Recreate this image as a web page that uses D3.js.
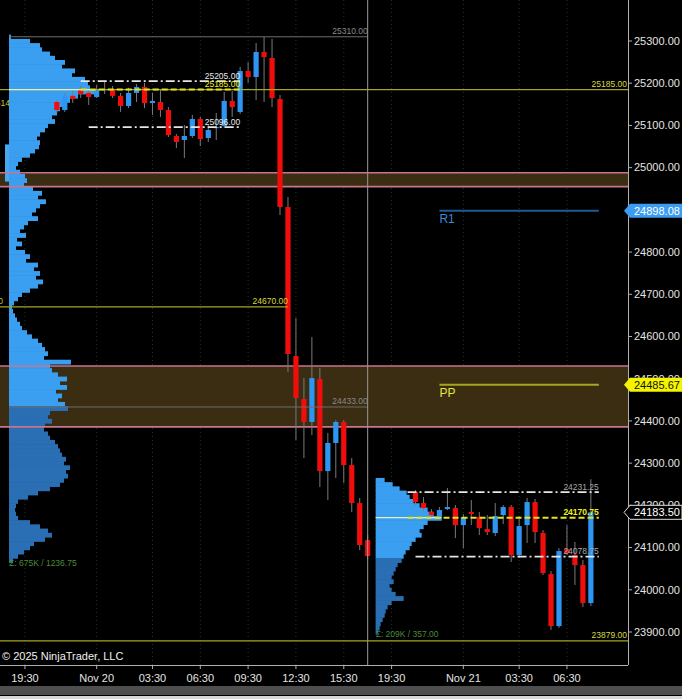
<!DOCTYPE html>
<html><head><meta charset="utf-8">
<script src="https://cdn.jsdelivr.net/npm/d3@7"></script>
<style>html,body{margin:0;padding:0;background:#000;overflow:hidden}svg{display:block}</style>
</head><body><svg id="c" width="682" height="699"></svg>
<script>
// ---------- DATA ----------
const slots = [
"11-19 18:30","11-19 19:00","11-19 19:30","11-19 20:00","11-19 20:30","11-19 21:00","11-19 21:30","11-19 22:00","11-19 22:30","11-19 23:00","11-19 23:30",
"11-20 00:00","11-20 00:30","11-20 01:00","11-20 01:30","11-20 02:00","11-20 02:30","11-20 03:00","11-20 03:30","11-20 04:00","11-20 04:30","11-20 05:00","11-20 05:30","11-20 06:00","11-20 06:30","11-20 07:00","11-20 07:30","11-20 08:00","11-20 08:30","11-20 09:00","11-20 09:30","11-20 10:00","11-20 10:30","11-20 11:00","11-20 11:30","11-20 12:00","11-20 12:30","11-20 13:00","11-20 13:30","11-20 14:00","11-20 14:30","11-20 15:00","11-20 15:30","11-20 16:00","11-20 16:30","11-20 17:00",
"11-20 18:30","11-20 19:00","11-20 19:30","11-20 20:00","11-20 20:30","11-20 21:00","11-20 21:30","11-20 22:00","11-20 22:30","11-20 23:00","11-20 23:30",
"11-21 00:00","11-21 00:30","11-21 01:00","11-21 01:30","11-21 02:00","11-21 02:30","11-21 03:00","11-21 03:30","11-21 04:00","11-21 04:30","11-21 05:00","11-21 05:30","11-21 06:00","11-21 06:30","11-21 07:00","11-21 07:30","11-21 08:00","11-21 08:30","11-21 09:00","11-21 09:30","11-21 10:00"];

const xTickSlots = ["11-19 19:30","11-20 00:00","11-20 03:30","11-20 06:30","11-20 09:30","11-20 12:30","11-20 15:30","11-20 19:30","11-21 00:00","11-21 03:30","11-21 06:30"];
const xTickLabels = ["19:30","Nov 20","03:30","06:30","09:30","12:30","15:30","19:30","Nov 21","03:30","06:30"];
const yTicks = [25300,25200,25100,25000,24900,24800,24700,24600,24500,24400,24300,24200,24100,24000,23900];

const candleTime = ["11-19 21:30","11-19 22:00","11-19 22:30","11-19 23:00","11-19 23:30","11-20 00:00","11-20 00:30","11-20 01:00","11-20 01:30","11-20 02:00","11-20 02:30","11-20 03:00","11-20 03:30","11-20 04:00","11-20 04:30","11-20 05:00","11-20 05:30","11-20 06:00","11-20 06:30","11-20 07:00","11-20 07:30","11-20 08:00","11-20 08:30","11-20 09:00","11-20 09:30","11-20 10:00","11-20 10:30","11-20 11:00","11-20 11:30","11-20 12:00","11-20 12:30","11-20 13:00","11-20 13:30","11-20 14:00","11-20 14:30","11-20 15:00","11-20 15:30","11-20 16:00","11-20 16:30","11-20 17:00",
"11-20 21:00","11-20 21:30","11-20 22:00","11-20 22:30","11-20 23:00","11-20 23:30","11-21 00:00","11-21 00:30","11-21 01:00","11-21 01:30","11-21 02:00","11-21 02:30","11-21 03:00","11-21 03:30","11-21 04:00","11-21 04:30","11-21 05:00","11-21 05:30","11-21 06:00","11-21 06:30","11-21 07:00","11-21 07:30","11-21 08:00"];
const candleOpen  = [25155.5,25136.5,25170,25186,25177,25167.25,25184,25184,25170,25146,25177,25191,25153,25155.5,25136.5,25075,25065.5,25075,25115.25,25070.25,25094,25098.5,25158,25131.75,25229,25214.75,25274,25259.75,25162.5,24906.75,24553.75,24452,24397.5,24499.25,24281.25,24347.75,24397.5,24295.5,24205.5,24117.75,
24231.25,24205.5,24184.25,24174.75,24191.25,24193.5,24153.25,24184.25,24172.25,24144,24134.5,24177,24196,24082.25,24153.25,24207.75,24134.5,24037.25,23914,24096.5,24082.25,24058.5,23968.5];
const candleHigh  = [25160,25177,25184,25193.5,25181.5,25195.75,25203,25193.5,25177,25189,25198,25200.5,25177,25184,25143.5,25079.75,25101,25124.75,25120,25101,25129.5,25179.25,25181.5,25238.5,25250.25,25295.25,25310,25305,25172,24930.5,24643.75,24501.5,24598.75,24525.25,24371.5,24402,24402,24312,24217.5,24129.75,
24236,24219.75,24191.25,24196,24241,24200.75,24179.5,24212.5,24184.25,24177,24205.5,24200.75,24200.75,24174.75,24217.5,24215,24141.5,24044.5,24098.75,24153.25,24113.25,24070.5,24262];
const candleLow   = [25129,25132,25153,25165,25148.5,25165,25174.5,25165,25132,25141,25155.5,25141,25124.75,25120,25072.5,25046.5,25022.75,25070.25,25051.25,25060.75,25065.5,25094,25120,25127,25200.5,25160,25155.5,25143.5,24887.75,24516,24354.75,24312,24366.5,24243.5,24212.5,24264.75,24253,24184,24094,24073.25,
24200.75,24186.5,24172.25,24167.5,24188.75,24122.5,24098.75,24153.25,24129.75,24129.75,24127.25,24155.75,24065.75,24075.25,24110.75,24110.75,24035,23905,23909.5,24082.25,24011.25,23959,23961.5];
const candleClose = [25136.5,25170,25162.5,25174.5,25167.25,25186.25,25186.25,25170,25146,25177,25191,25153,25158,25136.5,25077.25,25060.75,25075,25115.25,25067.75,25089.25,25096.25,25158,25143.5,25229,25214.75,25274,25262,25165,24906.75,24558.5,24454.25,24397.5,24501.5,24281.25,24347.75,24397.5,24295.5,24205.5,24106,24080,
24207.75,24193.5,24177,24189,24196,24153.25,24172.25,24179.5,24146.25,24136.75,24174.75,24196,24082.25,24151,24207.75,24136.75,24039.75,23914,24091.75,24087,24058.5,23968.5,24183.5];

// Volume profiles (relative volume per 10-point row, listed from the top price down)
const profileStep = 10;
const profile1Top = 25310;
const profile1Vol = [2,21,31,33,41,46,56,53,66,63,76,79,81,86,69,61,57,51,48,43,46,39,36,31,28,31,30,26,21,13,9,7,11,16,18,15,24,33,29,37,31,27,23,29,19,15,11,17,8,13,7,16,21,17,29,25,31,27,34,29,21,13,9,5,3,4,6,8,11,13,18,23,29,33,36,39,35,62,41,43,49,58,51,58,47,53,49,56,59,41,39,43,36,35,39,41,46,49,51,53,57,55,61,57,59,55,51,41,29,19,9,7,6,7,9,21,31,39,43,36,25,21,15,9,4];
const profile2Top = 24260;
const profile2Vol = [9,17,24,31,34,38,44,52,58,66,52,48,44,46,40,36,34,30,28,26,22,20,18,16,18,14,16,20,28,16,12,10,9,7,5,4,2];
const sessionStart = ["11-19 18:30","11-20 18:30"];
const sessionLow = [24073.25, 23905];
const sessionVAL = [24433, 24078.75];
const sessionPOC = [25185, 24170.75];
const sessionSum = ["Σ: 675K / 1236.75","Σ: 209K / 357.00"];
// tail of the prior session's profile peeking at the left edge
const priorTailTop = 25055, priorTailBottom = 24967;

// Zones
const zoneLow  = [24955, 24386];
const zoneHigh = [24988, 24530];

// Levels
const grayLevels = [25310, 24433];
const yellowFull = [25185, 23879];
const level24670 = 24670;
const dashDotLevels = [25205, 25096, 24231.25, 24078.75];
const dashDotFrom = ["11-19 23:00","11-19 23:30","11-20 20:30","11-20 21:00"];
const dashDotTo   = ["11-20 09:00","11-20 09:00","11-21 08:30","11-21 08:30"];
const pocFrom = ["11-19 23:00","11-20 20:30"];
const pocTo   = ["11-20 09:00","11-21 08:30"];
const pivotNames = ["R1","PP"];
const pivotValues = [24898.08, 24485.67];
const lastPrice = 24183.50;

// ---------- CHART ----------
const W=682, H=699, plotR=628, plotB=665;
const FONT = "'Liberation Sans', Arial, sans-serif";
const svg = d3.select("#c");
svg.append("rect").attr("width",W).attr("height",H).attr("fill","#000");
const x = d3.scalePoint().domain(slots).range([9, 622.75]);
const y = d3.scaleLinear().domain([25300, 23900]).range([41, 632]);

svg.append("defs").append("clipPath").attr("id","plot").append("rect")
  .attr("x",0).attr("y",0).attr("width",plotR).attr("height",plotB);
const g = svg.append("g").attr("clip-path","url(#plot)");

// grid (dotted verticals)
g.selectAll(null).data(xTickSlots).join("line")
  .attr("x1",d=>x(d)).attr("x2",d=>x(d)).attr("y1",0).attr("y2",plotB)
  .attr("stroke","#243824").attr("stroke-dasharray","1,3").attr("stroke-width",1);

// zone fills
g.selectAll(null).data(zoneLow).join("rect")
  .attr("x",0).attr("width",plotR)
  .attr("y",(d,i)=>y(zoneHigh[i])).attr("height",(d,i)=>y(d)-y(zoneHigh[i]))
  .attr("fill","#3a2d12");

// clipped labels at left edge (from off-screen levels)
g.append("text").attr("x",-8.9).attr("y",106).text("25141.00")
  .attr("font-family",FONT).attr("font-size",8.5).attr("fill","#c8c830");
g.append("text").attr("x",3).attr("y",304).attr("text-anchor","end").text("24670.00")
  .attr("font-family",FONT).attr("font-size",8.5).attr("fill","#c8c830");

// prior session tail
g.append("rect").attr("x",x(sessionStart[0])-4).attr("width",4)
  .attr("y",y(priorTailTop)).attr("height",y(priorTailBottom)-y(priorTailTop))
  .attr("fill","#4aa8f0");

// volume profiles
const profWidths = [86, 66];
[[profile1Vol, profile1Top],[profile2Vol, profile2Top]].forEach(([vols, top], s) => {
  const xs = x(sessionStart[s]);
  const wS = d3.scaleLinear().domain([0, d3.max(vols)]).range([0, profWidths[s]]);
  const rows = vols.map((v,i)=>({p: top - i*profileStep, v}));
  g.append("g").selectAll("rect").data(rows).join("rect")
    .attr("x", xs)
    .attr("y", d=>y(d.p + profileStep/2))
    .attr("width", d=>wS(d.v))
    .attr("height", d=>y(d.p - profileStep/2) - y(d.p + profileStep/2) + 0.6)
    .attr("fill", d=> d.p > sessionVAL[s] ? "#3a9ff0" : "#2a6fb4");
  g.append("text").attr("x", xs).attr("y", y(sessionLow[s]) + 7)
    .text(sessionSum[s]).attr("font-family",FONT).attr("font-size",8.5).attr("fill","#4a8a38");
});

// zone borders
zoneLow.forEach((lo,i)=>{
  [lo, zoneHigh[i]].forEach(v=>{
    g.append("line").attr("x1",0).attr("x2",plotR).attr("y1",y(v)).attr("y2",y(v))
      .attr("stroke","#c87590").attr("stroke-width",1.6);
  });
});

// candles
const candles = candleTime.map((t,i)=>({t, o:candleOpen[i], h:candleHigh[i], l:candleLow[i], c:candleClose[i]}));
const cw = 5.2;
const cg = g.append("g");
cg.selectAll("line").data(candles).join("line")
  .attr("x1",d=>x(d.t)).attr("x2",d=>x(d.t))
  .attr("y1",d=>y(d.h)).attr("y2",d=>y(d.l))
  .attr("stroke","#7a7a7a").attr("stroke-width",1);
cg.selectAll("rect").data(candles).join("rect")
  .attr("x",d=>x(d.t)-cw/2).attr("width",cw)
  .attr("y",d=>y(Math.max(d.o,d.c)))
  .attr("height",d=>Math.max(1.2, Math.abs(y(d.o)-y(d.c))))
  .attr("fill",d=>d.c>=d.o ? "#2e96f2" : "#f20d0d");

// gray session lines (high / VAL)
grayLevels.forEach(v=>{
  const x1 = x(sessionStart[0]), x2 = x("11-20 17:00");
  g.append("line").attr("x1",x1).attr("x2",x2).attr("y1",y(v)).attr("y2",y(v))
    .attr("stroke","#6e6e6e").attr("stroke-width",1);
  g.append("text").attr("x",x2).attr("y",y(v)-2.5).attr("text-anchor","end").text(v.toFixed(2))
    .attr("font-family",FONT).attr("font-size",8.5).attr("fill","#8a8a8a");
});

// full-width yellow levels
yellowFull.forEach(v=>{
  g.append("line").attr("x1",0).attr("x2",plotR).attr("y1",y(v)).attr("y2",y(v))
    .attr("stroke","#a4a426").attr("stroke-width",1.2);
  g.append("text").attr("x",plotR-1).attr("y",y(v)-3).attr("text-anchor","end").text(v.toFixed(2))
    .attr("font-family",FONT).attr("font-size",8.5).attr("fill","#d8d840");
});
// 24670 level
{
  const x2 = x("11-20 12:00");
  g.append("line").attr("x1",0).attr("x2",x2).attr("y1",y(level24670)).attr("y2",y(level24670))
    .attr("stroke","#a4a426").attr("stroke-width",1.2);
  g.append("text").attr("x",x2).attr("y",y(level24670)-3).attr("text-anchor","end").text(level24670.toFixed(2))
    .attr("font-family",FONT).attr("font-size",8.5).attr("fill","#d8d840");
}
// POC highlight across profiles
sessionPOC.forEach((p,s)=>{
  const xs = x(sessionStart[s]);
  g.append("line").attr("x1",xs).attr("x2",xs+profWidths[s]).attr("y1",y(p)).attr("y2",y(p))
    .attr("stroke","#e8f0c0").attr("stroke-width",1.2);
});

// dash-dot levels
dashDotLevels.forEach((v,i)=>{
  const x1=x(dashDotFrom[i]), x2=x(dashDotTo[i]);
  g.append("line").attr("x1",x1).attr("x2",x2).attr("y1",y(v)).attr("y2",y(v))
    .attr("stroke","#e6e6e6").attr("stroke-width",1.8).attr("stroke-dasharray","9,3,2,3");
  g.append("text").attr("x",x2).attr("y",y(v)-2.5).attr("text-anchor","end").text(v.toFixed(2))
    .attr("font-family",FONT).attr("font-size",8.5).attr("fill", i<2 ? "#e8e8e8" : "#a8a8a8");
});
// POC dashed levels
sessionPOC.forEach((v,i)=>{
  const x1=x(pocFrom[i]), x2=x(pocTo[i]);
  g.append("line").attr("x1",x1).attr("x2",x2).attr("y1",y(v)).attr("y2",y(v))
    .attr("stroke","#e4e420").attr("stroke-width",2).attr("stroke-dasharray","6,3");
  g.append("text").attr("x",x2).attr("y",y(v)-2.5).attr("text-anchor","end").text(v.toFixed(2))
    .attr("font-family",FONT).attr("font-size",8.5).attr("font-weight", i==1?"bold":"normal").attr("fill","#f0f020");
});

// pivots
const pivotLine = ["#1f5a9a","#a6a622"], pivotText = ["#3a8ad6","#e6e640"];
pivotValues.forEach((v,i)=>{
  const x1=x("11-20 22:30"), x2=x("11-21 08:30");
  g.append("line").attr("x1",x1).attr("x2",x2).attr("y1",y(v)).attr("y2",y(v))
    .attr("stroke",pivotLine[i]).attr("stroke-width",2);
  g.append("text").attr("x",x1).attr("y",y(v)+12).text(pivotNames[i])
    .attr("font-family",FONT).attr("font-size",12).attr("fill",pivotText[i]);
});

// session divider
g.append("line").attr("x1",x("11-20 17:00")).attr("x2",x("11-20 17:00")).attr("y1",0).attr("y2",plotB)
  .attr("stroke","#9a9a9a").attr("stroke-width",1);

// frame
svg.append("line").attr("x1",plotR+0.5).attr("x2",plotR+0.5).attr("y1",0).attr("y2",plotB)
  .attr("stroke","#b0b0b0").attr("stroke-width",1);
svg.append("line").attr("x1",0).attr("x2",plotR).attr("y1",plotB+0.5).attr("y2",plotB+0.5)
  .attr("stroke","#b0b0b0").attr("stroke-width",1);

// y axis
const ya = svg.append("g");
yTicks.forEach(v=>{
  ya.append("line").attr("x1",plotR).attr("x2",plotR+4).attr("y1",y(v)).attr("y2",y(v)).attr("stroke","#b0b0b0");
  ya.append("text").attr("x",634).attr("y",y(v)).attr("dy","0.35em").text(v.toFixed(2))
    .attr("font-family",FONT).attr("font-size",11).attr("fill","#e4e4e4");
});
// price markers
const markerVals = [pivotValues[0], pivotValues[1], lastPrice];
const markerFill = ["#3b9cf2","#f4f400","#000"], markerText=["#ffffff","#111111","#ffffff"], markerStroke=["none","none","#dddddd"];
markerVals.forEach((v,i)=>{
  const yy=y(v), h=7;
  ya.append("path").attr("d",`M${plotR-4},${yy} L${plotR+2},${yy-h} L${W},${yy-h} L${W},${yy+h} L${plotR+2},${yy+h} Z`)
    .attr("fill",markerFill[i]).attr("stroke",markerStroke[i]).attr("stroke-width",1);
  ya.append("text").attr("x",634).attr("y",yy).attr("dy","0.35em").text(v.toFixed(2))
    .attr("font-family",FONT).attr("font-size",11).attr("fill",markerText[i]);
});

// x axis
xTickSlots.forEach((s,i)=>{
  svg.append("line").attr("x1",x(s)).attr("x2",x(s)).attr("y1",plotB).attr("y2",plotB+4).attr("stroke","#b0b0b0");
  svg.append("text").attr("x",x(s)).attr("y",682).attr("text-anchor","middle").text(xTickLabels[i])
    .attr("font-family",FONT).attr("font-size",11).attr("fill","#e4e4e4");
});

// copyright
svg.append("text").attr("x",2).attr("y",660).text("© 2025 NinjaTrader, LLC")
  .attr("font-family",FONT).attr("font-size",11).attr("fill","#f0f0f0");

// scrollbar + tab strip
svg.append("rect").attr("x",0).attr("y",686).attr("width",W).attr("height",9).attr("fill","#4e4e4e");
svg.append("rect").attr("x",0).attr("y",696).attr("width",W).attr("height",3).attr("fill","#d8d8d8");
</script>
</body></html>
